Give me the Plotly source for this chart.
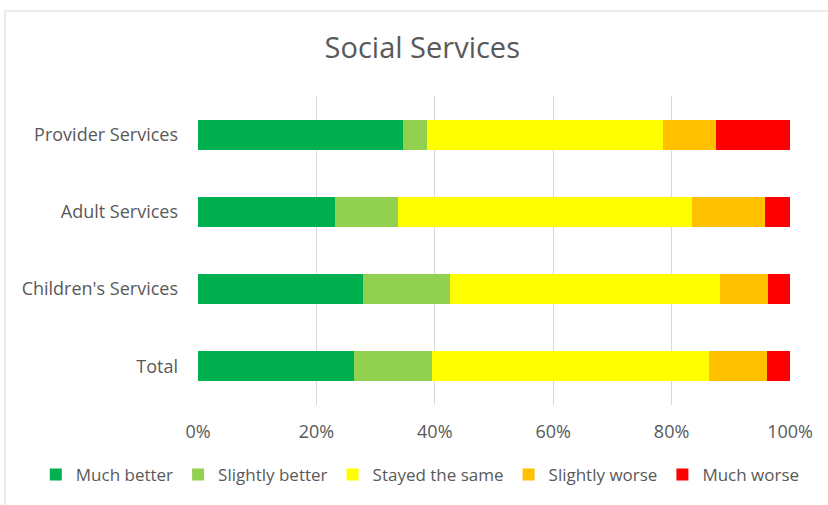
import plotly.graph_objects as go

categories = ["Provider Services", "Adult Services", "Children's Services", "Total"]

much_better = [34.6, 23.2, 27.9, 26.4]
slightly_better = [4.1, 10.5, 14.6, 13.2]
stayed_same = [39.8, 49.8, 45.6, 46.7]
slightly_worse = [9.0, 12.2, 8.2, 9.8]
much_worse = [12.5, 4.3, 3.7, 3.9]

series = [
    ("Much better", much_better, "#00B050"),
    ("Slightly better", slightly_better, "#92D050"),
    ("Stayed the same", stayed_same, "#FFFF00"),
    ("Slightly worse", slightly_worse, "#FFC000"),
    ("Much worse", much_worse, "#FF0000"),
]

tick_vals = [0, 20, 40, 60, 80, 100]
tick_text = ["0%", "20%", "40%", "60%", "80%", "100%"]

font_name = "Open Sans"
grey = "#595959"

fig = go.Figure()
for name, vals, color in series:
    fig.add_trace(go.Bar(
        y=categories, x=vals, name=name, orientation="h",
        marker=dict(color=color, line=dict(width=0)),
    ))

# chart frame (only top and left edges show in the reference)
fig.add_shape(type="line", xref="paper", yref="paper",
              x0=-0.326, x1=1.07, y0=1.275, y1=1.275,
              line=dict(color="#d9d9d9", width=1))
fig.add_shape(type="line", xref="paper", yref="paper",
              x0=-0.326, x1=-0.326, y0=1.275, y1=-0.33,
              line=dict(color="#d9d9d9", width=1))

fig.update_layout(
    barmode="stack",
    bargap=0.61,
    width=828, height=505,
    margin=dict(l=198, r=38, t=96, b=100),
    paper_bgcolor="white", plot_bgcolor="white",
    font=dict(family=font_name, size=18, color=grey),
    title=dict(text="Social Services", x=0.51, xanchor="center",
               y=0.905, yanchor="middle",
               font=dict(family=font_name, size=29, color=grey)),
    legend=dict(orientation="h", x=-0.274, xanchor="left", y=-0.2265, yanchor="middle",
                traceorder="normal", font=dict(size=17, color=grey),
                itemwidth=30),
    showlegend=True,
)
fig.update_xaxes(range=[0, 100], tickvals=tick_vals, ticktext=tick_text,
                 showgrid=True, gridcolor="#d9d9d9", gridwidth=1,
                 zeroline=False, showline=False, ticklabelstandoff=14)
fig.update_yaxes(categoryorder="array", categoryarray=categories[::-1],
                 showgrid=False, showline=False, ticklabelstandoff=19)

fig.write_html("out.html", config={"displayModeBar": False},
               post_script="document.body.style.margin='0';")
